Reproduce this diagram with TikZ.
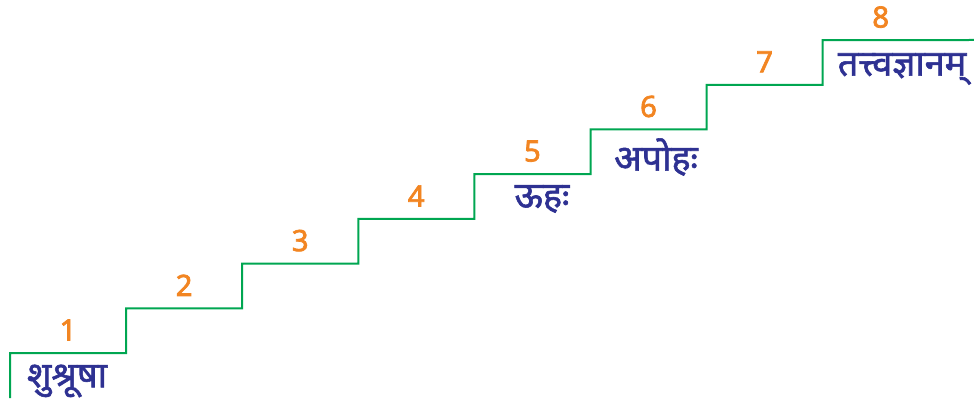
\documentclass[tikz,border=0pt]{standalone}
\usepackage{fontspec}
\newfontfamily\devfont[Script=Devanagari, FakeBold=1.6]{Noto Sans}
\newfontfamily\numfont[FakeBold=2.4]{Noto Sans}
\usetikzlibrary{positioning}
\definecolor{stairgreen}{RGB}{0,166,81}
\definecolor{numorange}{RGB}{242,133,34}
\definecolor{labelblue}{RGB}{46,49,146}
\tikzset{stair/.style = {draw = stairgreen, line width = 1.5pt},
         stepnum/.style = {text = numorange, font = \numfont\fontsize{22}{24}\selectfont},
         stagename/.style = {text = labelblue, font = \devfont\fontsize{27}{30}\selectfont, inner sep = 0pt}}

\begin{document}
\begin{tikzpicture}[x = 0.75pt, y = -0.75pt]
        \useasboundingbox (0,0) rectangle (974,413);

        % step corners and their numbers
        \foreach \k in {0,...,7} {
            \coordinate (c\k) at ({10 + 116.1*\k}, {353 - 44.7*\k});
            \node[stepnum] (n\k) at ({68 + 116.1*\k}, {330 - 44.7*\k}) {\the\numexpr\k+1\relax};
        }
        \coordinate (base) at (10,398);
        \coordinate (top)  at (974,40);

        \draw[stair] (base) -- (c0) -| (c1) -| (c2) -| (c3) -| (c4) -| (c5) -| (c6) -| (c7) -- (top);

        \node[stagename] (s1) at (67,381)  {शुश्रूषा};
        \node[stagename] (s5) at (542,199) {ऊहः};
        \node[stagename] (s6) at (656,157) {अपोहः};
        \node[stagename] (s8) at (902,69)  {तत्त्वज्ञानम्};
    \end{tikzpicture}
\end{document}
